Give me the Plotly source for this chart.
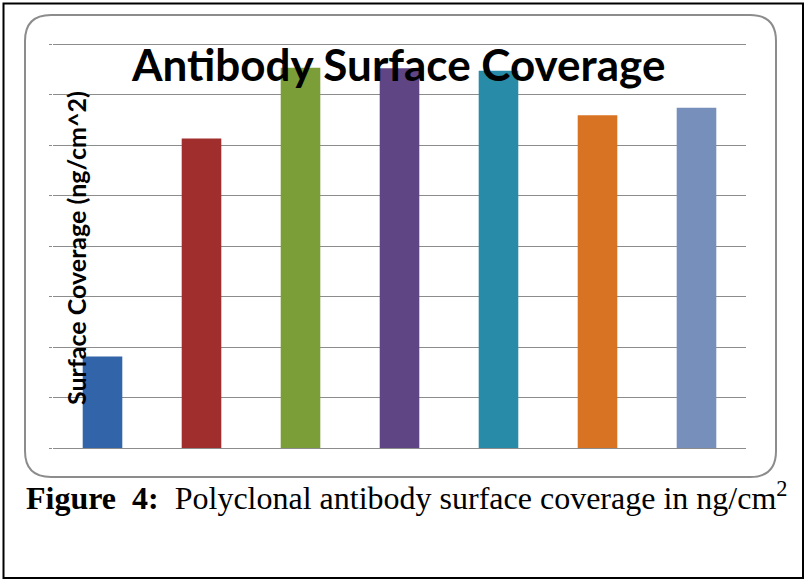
import plotly.graph_objects as go

# ---- data ----
categories = ["A", "B", "C", "D", "E", "F", "G"]
coverage = [1.81, 6.13, 7.53, 7.52, 7.47, 6.59, 6.74]
bar_colors = ["#3164a8", "#a02e2c", "#7b9e38", "#604585", "#288ca8", "#d87323", "#778fbb"]
y_ticks = [0, 1, 2, 3, 4, 5, 6, 7, 8]

title_text = "Antibody Surface Coverage"
ytitle_text = "Surface Coverage (ng/cm^2)"
caption_bold = "Figure\u00a0\u00a04:"
caption_text = "Polyclonal antibody surface coverage in ng/cm<sup>2</sup>"

W, H = 805, 580
L, R, T, B = 53, 746, 43, 448  # plot area in pixels


def px(x):
    return (x - L) / (R - L)


def py(y):
    return (B - y) / (B - T)


fig = go.Figure()
fig.add_trace(go.Bar(
    x=categories, y=coverage,
    marker=dict(color=bar_colors, line=dict(width=0)),
    width=0.4, hoverinfo="skip",
))

# rounded chart frame
x0, x1, y0, y1, r = 25, 776, 15, 477, 26
path = (
    f"M {px(x0 + r)},{py(y0)} L {px(x1 - r)},{py(y0)} "
    f"Q {px(x1)},{py(y0)} {px(x1)},{py(y0 + r)} "
    f"L {px(x1)},{py(y1 - r)} Q {px(x1)},{py(y1)} {px(x1 - r)},{py(y1)} "
    f"L {px(x0 + r)},{py(y1)} Q {px(x0)},{py(y1)} {px(x0)},{py(y1 - r)} "
    f"L {px(x0)},{py(y0 + r)} Q {px(x0)},{py(y0)} {px(x0 + r)},{py(y0)} Z"
)
shapes = [
    dict(type="path", path=path, xref="paper", yref="paper",
         line=dict(color="#8c8c8c", width=2), layer="below"),
    dict(type="rect", xref="paper", yref="paper",
         x0=px(3.5), x1=px(803), y0=py(3.5), y1=py(578),
         line=dict(color="black", width=2), layer="below"),
]

annotations = [
    dict(text=f"<b>{title_text}</b>", x=px(398), y=py(64), xref="paper", yref="paper",
         showarrow=False, xanchor="center", yanchor="middle",
         font=dict(family="Lato", size=44, color="black")),
    dict(text=f"<b>{ytitle_text}</b>", x=px(76), y=py(248), xref="paper", yref="paper",
         showarrow=False, xanchor="center", yanchor="middle", textangle=-90,
         font=dict(family="Lato", size=25, color="black")),
    dict(text=f"<b>{caption_bold}</b>\u00a0\u00a0{caption_text}", x=px(24), y=py(496),
         xref="paper", yref="paper", showarrow=False, xanchor="left", yanchor="middle",
         font=dict(family="Liberation Serif", size=32, color="black")),
]

fig.update_layout(
    width=W, height=H,
    margin=dict(l=L, r=W - R, t=T, b=H - B, pad=0),
    paper_bgcolor="white", plot_bgcolor="rgba(0,0,0,0)",
    showlegend=False, bargap=0.6,
    shapes=shapes, annotations=annotations,
)
fig.update_xaxes(showticklabels=False, showgrid=False, ticks="",
                 showline=True, linecolor="#8c8c8c", linewidth=1, zeroline=False)
fig.update_yaxes(range=[0, 8.02], tickvals=y_ticks, showticklabels=False,
                 showgrid=True, gridcolor="#8c8c8c", gridwidth=1,
                 ticks="outside", ticklen=3, tickcolor="#8c8c8c",
                 showline=False, zeroline=False)

fig.write_html("out.html", config={"displayModeBar": False},
               post_script="document.body.style.margin='0';")
